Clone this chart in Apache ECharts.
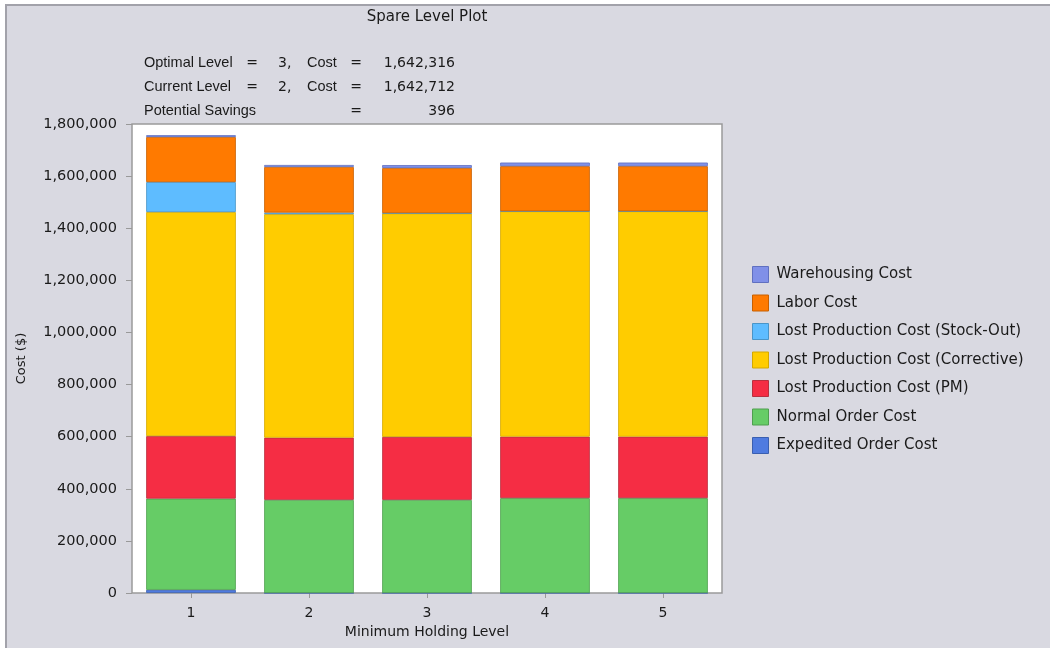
<!DOCTYPE html>
<html>
<head>
<meta charset="utf-8">
<script src="https://cdn.jsdelivr.net/npm/echarts@6/dist/echarts.min.js"></script>
<style>
html,body{margin:0;padding:0;background:#ffffff;}
#chart{width:1050px;height:648px;}
</style>
</head>
<body>
<div id="chart"></div>
<script>
const categories = ['1', '2', '3', '4', '5'];
const seriesNames = [
  'Expedited Order Cost',
  'Normal Order Cost',
  'Lost Production Cost (PM)',
  'Lost Production Cost (Corrective)',
  'Lost Production Cost (Stock-Out)',
  'Labor Cost',
  'Warehousing Cost'
];
const expedited   = [12000, 0, 0, 0, 0];
const normalOrder = [350000, 357000, 357000, 364000, 364000];
const lostPM      = [240000, 239000, 242000, 236000, 236000];
const corrective  = [860000, 858000, 858000, 865000, 865000];
const stockOut    = [115000, 6000, 1000, 0, 0];
const labor       = [173000, 175000, 173000, 173000, 173000];
const warehousing = [7000, 7712, 11316, 14000, 14000];
const seriesValues = [expedited, normalOrder, lostPM, corrective, stockOut, labor, warehousing];
const colors  = ['#4f7be0', '#66cc66', '#f52d44', '#ffcc00', '#5ebcff', '#ff7a00', '#8090e8'];
const borders = ['#3a5fb0', '#4f9f4f', '#b8303f', '#d4a800', '#4a95c8', '#c86000', '#6070c0'];
const legendOrder = seriesNames.slice().reverse();

const title = 'Spare Level Plot';
const annotRows = [
  ['Optimal Level', '=', '3,', 'Cost', '=', '1,642,316'],
  ['Current Level', '=', '2,', 'Cost', '=', '1,642,712'],
  ['Potential Savings', '', '', '', '=', '396']
];

const FONT = 'DejaVu Sans';
const FONT2 = 'Liberation Sans';
const TXT = '#1a1a1a';

const chart = echarts.init(document.getElementById('chart'), null, {renderer: 'canvas'});

const graphics = [
  {type: 'rect', z: -10, shape: {x: 6, y: 5, width: 1100, height: 700},
   style: {fill: '#d9d9e1', stroke: '#a2a2aa', lineWidth: 2}},
  {type: 'text', x: 427, y: 17, style: {text: title, font: '15px ' + FONT, fill: TXT, textAlign: 'center', textVerticalAlign: 'middle'}}
];
const colX = [144, 252, 278, 307, 356, 455];
const colAlign = ['left', 'center', 'left', 'left', 'center', 'right'];
const colFont = ['14.5px ' + FONT2, '14px ' + FONT, '14px ' + FONT, '14.5px ' + FONT2, '14px ' + FONT, '14px ' + FONT];
const rowY = [63, 87, 111];
annotRows.forEach((row, r) => {
  row.forEach((t, c) => {
    if (!t) return;
    graphics.push({type: 'text', x: colX[c], y: rowY[r],
      style: {text: t, font: colFont[c], fill: TXT, textAlign: colAlign[c], textVerticalAlign: 'middle'}});
  });
});

const option = {
  backgroundColor: 'transparent',
  animation: false,
  graphic: graphics,
  legend: {
    orient: 'vertical',
    left: 747,
    top: 261,
    itemWidth: 16,
    itemHeight: 16,
    itemGap: 11.5,
    icon: 'rect',
    data: legendOrder,
    textStyle: {fontFamily: FONT, fontSize: 15, lineHeight: 15, color: TXT, padding: [0, 0, 0, 3]},
    itemStyle: {borderWidth: 1}
  },
  grid: {
    left: 132, right: 328, top: 124, bottom: 55,
    show: true, backgroundColor: '#ffffff', borderColor: '#9a9a9a', borderWidth: 1.5,
    containLabel: false
  },
  xAxis: {
    type: 'category',
    data: categories,
    name: 'Minimum Holding Level',
    nameLocation: 'middle',
    nameGap: 32,
    nameTextStyle: {fontFamily: FONT, fontSize: 14, color: TXT},
    axisLine: {show: false},
    axisTick: {show: true, alignWithLabel: true, length: 5, lineStyle: {color: '#999'}},
    axisLabel: {fontFamily: FONT, fontSize: 14, color: TXT, margin: 13},
    splitLine: {show: false}
  },
  yAxis: {
    type: 'value',
    min: 0, max: 1800000, interval: 200000,
    name: 'Cost ($)',
    nameLocation: 'middle',
    nameGap: 104,
    nameRotate: 90,
    nameTextStyle: {fontFamily: FONT, fontSize: 13, color: TXT},
    axisLine: {show: false},
    axisTick: {show: true, length: 6, lineStyle: {color: '#999'}},
    axisLabel: {fontFamily: FONT, fontSize: 14.5, color: TXT, margin: 15,
      formatter: v => v.toLocaleString('en-US')},
    splitLine: {show: false}
  },
  series: seriesNames.map((name, i) => ({
    name: name,
    type: 'bar',
    stack: 'total',
    barWidth: '76%',
    data: seriesValues[i],
    itemStyle: {color: colors[i], borderColor: borders[i], borderWidth: 0.8},
    emphasis: {disabled: true}
  }))
};
chart.setOption(option);
</script>
</body>
</html>
